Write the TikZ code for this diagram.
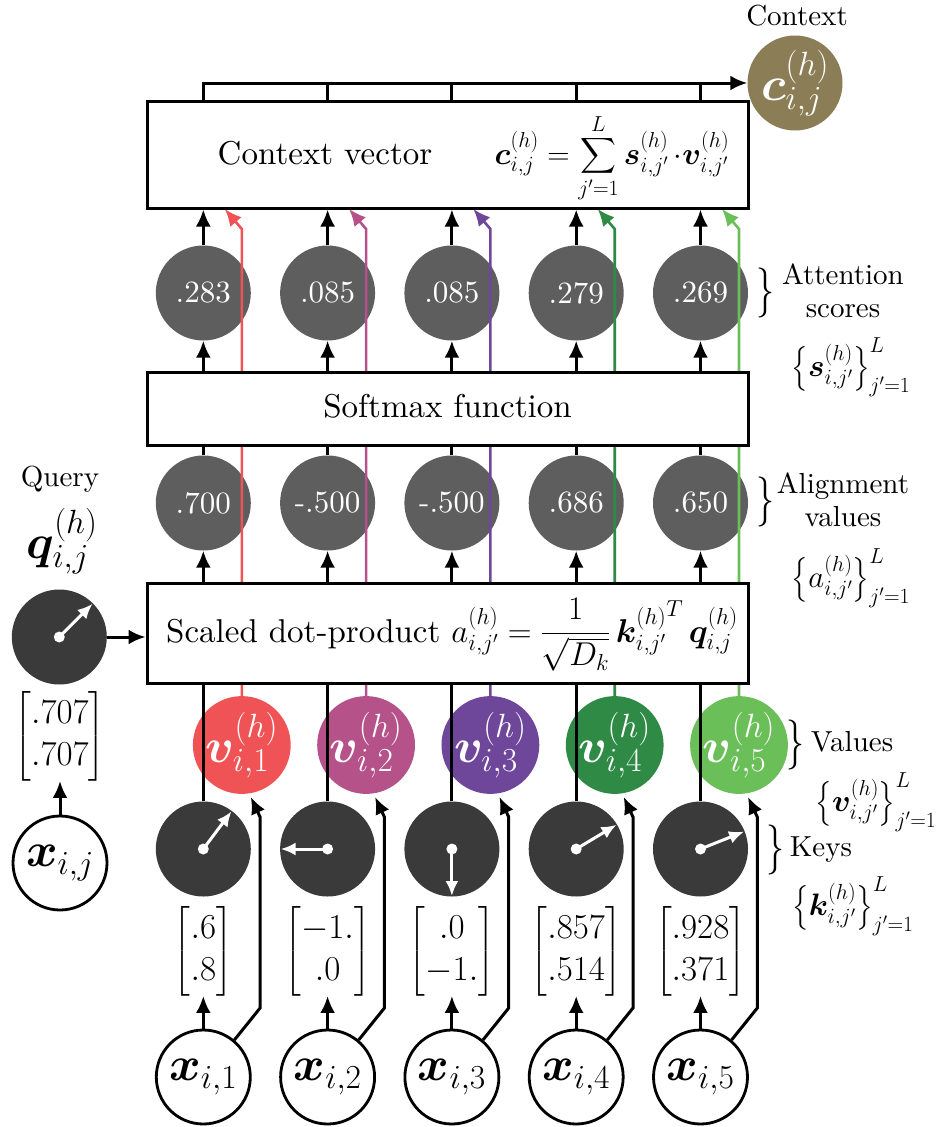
\RequirePackage{fix-cm}
\documentclass[tikz,border=0pt]{standalone}
\usepackage{amsmath,bm,graphicx}
\usetikzlibrary{arrows.meta,calc}

% text faces: the 10pt design of Latin Modern Roman, scaled to each size
\font\fboxtxt="[lmroman10-regular]:mapping=tex-text" at 33pt
\font\fnumtxt="[lmroman10-regular]:mapping=tex-text" at 31pt
\font\flabtxt="[lmroman10-regular]:mapping=tex-text" at 29pt

\definecolor{scoregray}{HTML}{5F5E5F}
\definecolor{keygray}{HTML}{3A3A3A}
\definecolor{ctxbrown}{HTML}{8B7D56}
\definecolor{vred}{HTML}{F05355}
\definecolor{vmag}{HTML}{B5528A}
\definecolor{vpurple}{HTML}{6E479B}
\definecolor{vdgreen}{HTML}{2E8A45}
\definecolor{vlgreen}{HTML}{6BBF59}

\newcommand{\fsbox}{\fontsize{33}{39}\selectfont\fboxtxt}
\newcommand{\fsform}{\fontsize{31}{37}\selectfont}
\newcommand{\fsnum}{\fontsize{31}{37}\selectfont\fnumtxt}
\newcommand{\fsbig}{\fontsize{48}{56}\selectfont}
\newcommand{\fslab}{\fontsize{29}{33}\selectfont\flabtxt}
\newcommand{\fsset}{\fontsize{31}{36}\selectfont}
\newcommand{\fsmat}{\fontsize{35}{42}\selectfont}
\newcommand{\bracemark}{\scalebox{0.72}[1]{\fontsize{50}{54}\selectfont$\}$}}

\pgfdeclarelayer{front}
\pgfsetlayers{main,front}

\begin{document}
\begin{tikzpicture}[x=1pt,y=-1pt,
  line/.style={line width=3pt},
  arr/.style={line width=3pt,-{Latex[length=17pt,width=15pt]}},
  warr/.style={white,line width=3pt,-{Latex[length=15pt,width=13pt]}},
  carr/.style={line width=2.6pt,-{Latex[length=17pt,width=15pt]}},
  score/.style={circle,fill=scoregray,minimum size=95pt,inner sep=0pt,text=white,font=\fsnum},
  keyc/.style={circle,fill=keygray,minimum size=95pt,inner sep=0pt},
  valc/.style={circle,fill=#1,minimum size=95pt,inner sep=0pt,text=white,font=\fsbig},
  inpc/.style={circle,draw,line width=2.8pt,fill=white,minimum size=94pt,inner sep=0pt,font=\fsbig},
  blk/.style={draw,line width=3pt,fill=white,minimum width=601pt,inner sep=0pt},
  mat/.style={inner sep=0pt,font=\fsmat},
  lab/.style={font=\fslab,align=center,inner sep=0pt},
  setl/.style={font=\fsset,inner sep=0pt},
  brc/.style={inner sep=0pt},
  dotc/.style={circle,fill=white,minimum size=11pt,inner sep=0pt},
]
\fill[white] (0,0) rectangle (943,1127);
\useasboundingbox (0,0) rectangle (943,1127);

% processing blocks (kept on the front layer so they hide the value lines)
\begin{pgfonlayer}{front}
  \node[blk,minimum height=107pt] (ctx) at (447.5,154.5) {};
  \node[blk,minimum height=73pt] (sm) at (447.5,408.5) {};
  \node[blk,minimum height=100pt] (dp) at (447.5,633) {};
  \node[anchor=base,font=\fsbox] (ctxt) at (325,164) {Context vector};
  \node[anchor=base,font=\fsform] (ctxf) at (612,164)
    {$\bm{c}^{(h)}_{i,j} = \displaystyle\sum_{j'=1}^{L} \bm{s}^{(h)}_{i,j'}\,{\cdot}\bm{v}^{(h)}_{i,j'}$};
  \node[anchor=base,font=\fsbox] (smt) at (447.5,417) {Softmax function};
  \node[anchor=base,font=\fsbox] (dpt) at (452,642)
    {Scaled dot-product $a^{(h)}_{i,j'} = \dfrac{1}{\sqrt{D_k}}\,{\bm{k}^{(h)}_{i,j'}}^{T}\,\bm{q}^{(h)}_{i,j}$};
\end{pgfonlayer}

% one column per position j'
\foreach \k/\cx/\sv/\av/\vc/\kx/\ky/\ma/\mb in {
  1/203.3/.283/.700/vred/28.2/-37.6/.6/.8,
  2/327.6/.085/-.500/vmag/-47/0/-1./.0,
  3/451.9/.085/-.500/vpurple/0/47/.0/-1.,
  4/576.2/.279/.686/vdgreen/40.3/-24.2/.857/.514,
  5/700.5/.269/.650/vlgreen/43.6/-17.4/.928/.371}
{
  \node[score] (s\k) at (\cx,293) {\sv};
  \node[score] (a\k) at (\cx,503) {\av};
  \node[valc=\vc] (v\k) at (\cx+38.5,745) {$\bm{v}^{(h)}_{i,\k}$};
  \node[keyc] (k\k) at (\cx,849) {};
  \draw[warr] (k\k.center) -- ++(\kx,\ky);
  \node[dotc] (kd\k) at (k\k.center) {};
  \node[mat] (m\k) at (\cx,951) {$\begin{bmatrix}\ma\\\mb\end{bmatrix}$};
  \node[inpc] (x\k) at (\cx,1077) {$\bm{x}_{i,\k}$};

  \draw[arr] (s\k.north) -- (s\k.north |- ctx.south);
  \draw[arr] (sm.north -| s\k) -- (s\k.south);
  \draw[line] (a\k.north) -- (a\k.north |- sm.south);
  \draw[arr] (dp.north -| a\k) -- (a\k.south);
  \draw[line] (k\k.north) -- (k\k.north |- dp.south);
  \draw[arr] (x\k.north) -- (m\k.south);
  \draw[arr] (x\k.50) -- ($(v\k.center)+(18.3,263)$) -- ($(v\k.center)+(18.3,72)$) -- ($(v\k.center)+(9,52)$);
  \draw[carr,\vc] (v\k.north) -- ($(v\k.center)+(0,-516)$) -- ($(v\k.center)+(-17,-536)$);
}

% context output
\node[valc=ctxbrown] (ctxc) at (795,83) {$\bm{c}^{(h)}_{i,j}$};
\node[lab] (ctxl) at (797,16) {Context};
\draw[arr] (ctx.north -| s1) |- (ctxc.west);
\foreach \k in {2,...,5} { \draw[line] (ctx.north -| s\k) -- (s\k |- ctxc.west); }

% query
\node[lab] (ql) at (60,479) {Query};
\node[font=\fsbig] (qlab) at (62,541) {$\bm{q}^{(h)}_{i,j}$};
\node[keyc] (q) at (59.3,637) {};
\draw[warr] (q.center) -- ++(33.2,-33.2);
\node[dotc] (qd) at (q.center) {};
\node[mat] (qm) at (60,736) {$\begin{bmatrix}.707\\.707\end{bmatrix}$};
\node[inpc] (xq) at (60,863) {$\bm{x}_{i,j}$};
\draw[arr] (xq.north) -- (qm.south);
\draw[arr] (q.east) -- (q.east -| dp.west);

% legend on the right
\node[brc] (b1) at (765,293) {\bracemark};
\node[lab] (l1) at (843,291) {Attention\\scores};
\node[setl] (st1) at (851,367) {$\left\{\bm{s}^{(h)}_{i,j'}\right\}_{j'=1}^{L}$};
\node[brc] (b2) at (765,502) {\bracemark};
\node[lab] (l2) at (843,500) {Alignment\\values};
\node[setl] (st2) at (851,578) {$\left\{a^{(h)}_{i,j'}\right\}_{j'=1}^{L}$};
\node[brc] (b3) at (795,745) {\bracemark};
\node[lab] (l3) at (852,742) {Values};
\node[setl] (st3) at (876,802) {$\left\{\bm{v}^{(h)}_{i,j'}\right\}_{j'=1}^{L}$};
\node[brc] (b4) at (775,850) {\bracemark};
\node[lab] (l4) at (821,850) {Keys};
\node[setl] (st4) at (853,906) {$\left\{\bm{k}^{(h)}_{i,j'}\right\}_{j'=1}^{L}$};
\end{tikzpicture}
\end{document}
